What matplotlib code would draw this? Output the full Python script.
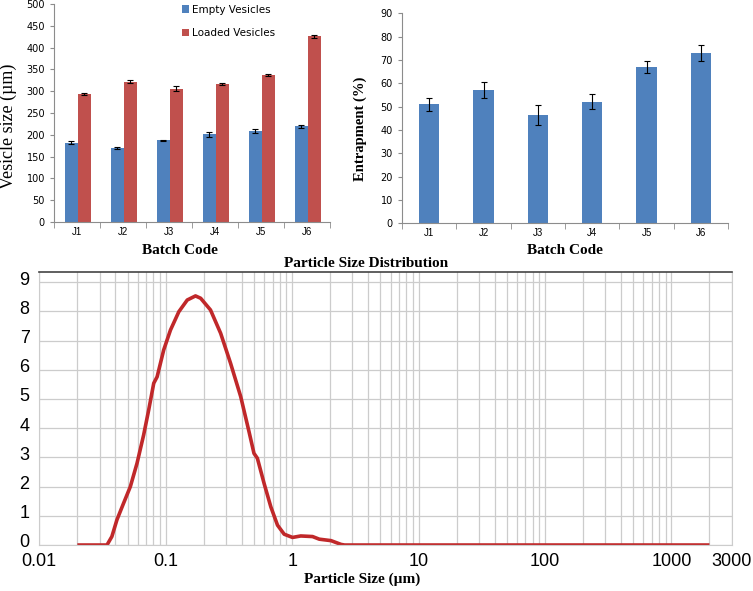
import matplotlib
matplotlib.use("Agg")
import matplotlib.pyplot as plt
import matplotlib.transforms as mtransforms
import numpy as np

# batch data
batches = ["J1", "J2", "J3", "J4", "J5", "J6"]
empty_size = [182, 170, 187, 201, 209, 219]
empty_err = [3, 3, 2, 5, 4, 3]
loaded_size = [293, 322, 306, 316, 337, 426]
loaded_err = [2, 4, 5, 3, 3, 3]
entrap = [51, 57, 46.5, 52, 67, 73]
entrap_err = [2.7, 3.5, 4.2, 3.2, 2.6, 3.3]

# particle size distribution (µm, volume %)
psd_x = [0.02, 0.0343, 0.0375, 0.0411, 0.0464, 0.0525, 0.0593, 0.0669, 0.0733,
         0.0804, 0.0855, 0.0964, 0.109, 0.127, 0.148, 0.172, 0.189, 0.226, 0.272,
         0.326, 0.392, 0.456, 0.499, 0.531, 0.60, 0.678, 0.766, 0.865, 1.007,
         1.17, 1.45, 1.64, 2.03, 2.44, 2.6, 2000]
psd_y = [0, 0, 0.29, 0.86, 1.43, 2.0, 2.8, 3.77, 4.62, 5.54, 5.76, 6.68, 7.36,
         7.99, 8.39, 8.53, 8.45, 8.05, 7.25, 6.22, 5.08, 3.88, 3.14, 2.97, 2.11,
         1.31, 0.68, 0.37, 0.26, 0.31, 0.29, 0.20, 0.15, 0.02, 0, 0]

BLUE = "#4f81bd"
RED = "#c0504d"
SERIF = "Liberation Serif"
SANS = "Liberation Sans"

fig = plt.figure(figsize=(7.53, 5.91), dpi=100)


def bar_style(ax):
    for s in ["top", "right"]:
        ax.spines[s].set_visible(False)
    for s in ["left", "bottom"]:
        ax.spines[s].set_color("#8c8c8c")
        ax.spines[s].set_linewidth(0.8)
    ax.tick_params(axis="both", colors="#8c8c8c", labelcolor="black",
                   labelsize=7, length=3, width=0.8)
    ax.set_xlim(-0.5, 5.5)
    x = np.arange(len(batches))
    ax.set_xticks(x)
    ax.set_xticklabels(batches, fontsize=7, family=SANS)
    ax.set_xticks(np.arange(-0.5, 6, 1), minor=True)
    ax.tick_params(axis="x", which="major", length=0)
    ax.tick_params(axis="x", which="minor", length=4, colors="#8c8c8c")


# vesicle size
ax1 = fig.add_axes([0.0717, 0.6244, 0.3665, 0.3689])
x = np.arange(len(batches))
w = 0.28
ax1.bar(x - w / 2 + 0.02, empty_size, w, color=BLUE, label="Empty Vesicles",
        yerr=empty_err, capsize=2.5, error_kw=dict(elinewidth=0.8, capthick=0.8))
ax1.bar(x + w / 2 + 0.02, loaded_size, w, color=RED, label="Loaded Vesicles",
        yerr=loaded_err, capsize=2.5, error_kw=dict(elinewidth=0.8, capthick=0.8))
ax1.set_ylim(0, 500)
ax1.set_yticks(range(0, 501, 50))
bar_style(ax1)
ax1.set_ylabel("Vesicle size (µm)", family=SERIF, fontsize=13)
ax1.yaxis.set_label_coords(-0.135, 0.44)
ax1.set_xlabel("Batch Code", family=SERIF, fontweight="bold", fontsize=11, labelpad=2)
ax1.xaxis.set_label_coords(0.455, -0.1)
ax1.legend(loc="upper left", bbox_to_anchor=(0.43, 1.04), frameon=False, fontsize=7.5,
           handlelength=0.7, handleheight=0.7, labelspacing=1.3, handletextpad=0.3)

# entrapment
ax2 = fig.add_axes([0.5339, 0.6222, 0.4329, 0.3553])
ax2.bar(x, entrap, 0.37, color=BLUE, yerr=entrap_err, capsize=2.5,
        error_kw=dict(elinewidth=0.8, capthick=0.8))
ax2.set_ylim(0, 90)
ax2.set_yticks(range(0, 91, 10))
bar_style(ax2)
ax2.set_ylabel("Entrapment (%)", family=SERIF, fontweight="bold", fontsize=10.5)
ax2.yaxis.set_label_coords(-0.107, 0.45)
ax2.set_xlabel("Batch Code", family=SERIF, fontweight="bold", fontsize=11, labelpad=2)
ax2.xaxis.set_label_coords(0.5, -0.1)

# particle size distribution
ax3 = fig.add_axes([0.0522, 0.0778, 0.9195, 0.4625])
ax3.plot(psd_x, psd_y, color="#c0282a", lw=2.6, solid_capstyle="butt")
ax3.set_xscale("log")
ax3.set_xlim(0.01, 3000)
ax3.set_ylim(0, 9.36)
ax3.set_yticks(range(0, 10))
xt = [0.01, 0.1, 1, 10, 100, 1000, 3000]
ax3.set_xticks(xt)
ax3.set_xticklabels(["0.01", "0.1", "1", "10", "100", "1000", "3000"])
minor = [m * 10.0 ** e for e in range(-2, 4) for m in range(2, 10)]
minor = [v for v in minor if v < 3000]
ax3.set_xticks(minor, minor=True)
ax3.tick_params(axis="both", which="both", length=0, labelsize=13)
ax3.tick_params(axis="x", which="both", pad=6)
ax3.tick_params(axis="y", which="both", pad=7)
ax3.tick_params(axis="x", which="minor", labelbottom=False)
up = mtransforms.ScaledTranslation(0, 3 / 72, fig.dpi_scale_trans)
for lab in ax3.get_yticklabels():
    lab.set_family(SANS)
    lab.set_transform(lab.get_transform() + up)
for lab in ax3.get_xticklabels():
    lab.set_family(SANS)
ax3.grid(True, which="both", color="#cccccc", lw=0.9)
ax3.set_axisbelow(True)
for s in ["left", "right", "bottom"]:
    ax3.spines[s].set_color("#cccccc")
ax3.spines["top"].set_color("#444444")
ax3.spines["top"].set_linewidth(1.2)
ax3.text(0.4726, 1.005, "Particle Size Distribution", transform=ax3.transAxes,
         ha="center", va="bottom", family=SERIF, fontweight="bold", fontsize=11)
ax3.set_xlabel("Particle Size (µm)", family=SERIF, fontweight="bold", fontsize=11)
ax3.xaxis.set_label_coords(0.466, -0.1)

fig.savefig("out.png", dpi=100)
